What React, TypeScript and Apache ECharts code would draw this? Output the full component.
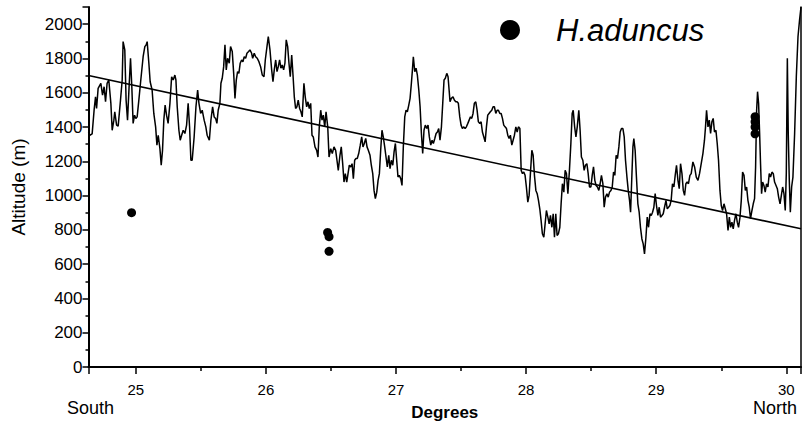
import React, { useEffect, useRef } from "react";
import * as echarts from "echarts";

const FONT = "'Liberation Sans', Arial, sans-serif";

const X_MIN = 24.636;
const X_MAX = 30.113;
const Y_MIN = 0;
const Y_MAX = 2100;
const Y_STEP = 200;

const speciesName = "H.aduncus";
const xTitle = "Degrees";
const yTitle = "Altitude (m)";
const southLabel = "South";
const northLabel = "North";

// Altitude profile along the transect (degrees, metres)
const profileDeg = [
  24.636, 24.646, 24.664, 24.679, 24.690, 24.698, 24.710, 24.731, 24.744, 24.756, 24.767, 24.779, 24.792, 24.808, 24.818, 24.831, 24.838, 24.852, 24.864, 24.882,
  24.895, 24.902, 24.915, 24.925, 24.936, 24.948, 24.959, 24.969, 24.979, 24.990, 25.000, 25.010, 25.023, 25.038, 25.056, 25.069, 25.079, 25.087, 25.100, 25.110,
  25.125, 25.138, 25.152, 25.162, 25.172, 25.185, 25.195, 25.205, 25.215, 25.225, 25.236, 25.248, 25.262, 25.275, 25.287, 25.300, 25.308, 25.318, 25.331, 25.341,
  25.352, 25.364, 25.377, 25.390, 25.402, 25.413, 25.423, 25.433, 25.448, 25.462, 25.475, 25.485, 25.498, 25.510, 25.525, 25.538, 25.548, 25.565, 25.577, 25.590,
  25.602, 25.613, 25.623, 25.633, 25.646, 25.654, 25.664, 25.675, 25.685, 25.695, 25.705, 25.718, 25.728, 25.741, 25.752, 25.762, 25.772, 25.782, 25.792, 25.802,
  25.813, 25.823, 25.833, 25.844, 25.854, 25.867, 25.877, 25.890, 25.898, 25.910, 25.921, 25.933, 25.946, 25.959, 25.972, 25.985, 25.995, 26.008, 26.018, 26.031,
  26.044, 26.054, 26.064, 26.075, 26.085, 26.095, 26.105, 26.115, 26.125, 26.136, 26.146, 26.156, 26.167, 26.177, 26.187, 26.198, 26.208, 26.218, 26.228, 26.238,
  26.248, 26.259, 26.269, 26.279, 26.292, 26.302, 26.313, 26.323, 26.333, 26.344, 26.354, 26.364, 26.377, 26.390, 26.400, 26.410, 26.421, 26.431, 26.441, 26.452,
  26.462, 26.475, 26.485, 26.498, 26.510, 26.523, 26.536, 26.546, 26.556, 26.569, 26.579, 26.590, 26.600, 26.610, 26.621, 26.631, 26.641, 26.652, 26.662, 26.672,
  26.682, 26.692, 26.702, 26.713, 26.725, 26.736, 26.746, 26.756, 26.767, 26.777, 26.787, 26.800, 26.810, 26.821, 26.831, 26.841, 26.852, 26.862, 26.872, 26.882,
  26.892, 26.902, 26.913, 26.923, 26.933, 26.944, 26.954, 26.964, 26.975, 26.985, 26.995, 27.005, 27.015, 27.025, 27.036, 27.046, 27.056, 27.067, 27.077, 27.087,
  27.098, 27.108, 27.118, 27.126, 27.133, 27.144, 27.154, 27.164, 27.175, 27.185, 27.195, 27.205, 27.215, 27.225, 27.236, 27.246, 27.256, 27.267, 27.277, 27.287,
  27.298, 27.308, 27.318, 27.328, 27.338, 27.349, 27.359, 27.369, 27.379, 27.390, 27.400, 27.408, 27.415, 27.425, 27.438, 27.448, 27.459, 27.469, 27.479, 27.490,
  27.500, 27.510, 27.521, 27.531, 27.541, 27.552, 27.562, 27.572, 27.582, 27.592, 27.602, 27.613, 27.623, 27.633, 27.644, 27.654, 27.664, 27.675, 27.685, 27.695,
  27.705, 27.715, 27.725, 27.736, 27.746, 27.756, 27.767, 27.777, 27.787, 27.798, 27.808, 27.818, 27.828, 27.838, 27.849, 27.859, 27.869, 27.879, 27.890, 27.900,
  27.910, 27.921, 27.931, 27.941, 27.952, 27.962, 27.972, 27.982, 27.992, 28.002, 28.013, 28.023, 28.033, 28.044, 28.054, 28.064, 28.075, 28.085, 28.095, 28.105,
  28.115, 28.125, 28.136, 28.146, 28.156, 28.167, 28.177, 28.187, 28.198, 28.208, 28.218, 28.228, 28.238, 28.248, 28.259, 28.269, 28.279, 28.290, 28.300, 28.310,
  28.321, 28.333, 28.344, 28.354, 28.362, 28.373, 28.383, 28.393, 28.405, 28.415, 28.425, 28.436, 28.446, 28.456, 28.467, 28.477, 28.487, 28.498, 28.508, 28.518,
  28.528, 28.538, 28.548, 28.559, 28.569, 28.579, 28.590, 28.600, 28.610, 28.621, 28.631, 28.641, 28.652, 28.662, 28.672, 28.682, 28.692, 28.702, 28.713, 28.723,
  28.733, 28.744, 28.754, 28.764, 28.775, 28.785, 28.795, 28.803, 28.813, 28.821, 28.828, 28.838, 28.848, 28.859, 28.869, 28.879, 28.890, 28.900, 28.910, 28.921,
  28.931, 28.941, 28.952, 28.962, 28.972, 28.982, 28.992, 29.002, 29.013, 29.023, 29.033, 29.044, 29.054, 29.064, 29.075, 29.085, 29.095, 29.105, 29.115, 29.125,
  29.136, 29.146, 29.156, 29.167, 29.177, 29.187, 29.198, 29.208, 29.218, 29.228, 29.238, 29.248, 29.259, 29.269, 29.282, 29.295, 29.308, 29.321, 29.333, 29.346,
  29.359, 29.371, 29.379, 29.387, 29.398, 29.408, 29.418, 29.428, 29.438, 29.448, 29.459, 29.469, 29.479, 29.490, 29.500, 29.510, 29.521, 29.531, 29.541, 29.552,
  29.562, 29.572, 29.582, 29.592, 29.602, 29.613, 29.623, 29.633, 29.644, 29.654, 29.664, 29.675, 29.685, 29.695, 29.705, 29.715, 29.725, 29.736, 29.746, 29.756,
  29.764, 29.772, 29.779, 29.787, 29.795, 29.802, 29.810, 29.818, 29.828, 29.838, 29.848, 29.859, 29.869, 29.879, 29.890, 29.900, 29.910, 29.921, 29.931, 29.941,
  29.952, 29.962, 29.972, 29.982, 29.992, 30.000, 30.008, 30.015, 30.023, 30.031, 30.041, 30.051, 30.064, 30.077, 30.090, 30.102, 30.113,
];

const profileAlt = [
  1371, 1352, 1360, 1498, 1576, 1508, 1625, 1655, 1586, 1635, 1547, 1655, 1674, 1538, 1381, 1440, 1489, 1411, 1405, 1557,
  1674, 1898, 1850, 1557, 1440, 1635, 1801, 1635, 1421, 1469, 1450, 1459, 1557, 1674, 1810, 1869, 1879, 1898, 1772, 1664,
  1616, 1479, 1401, 1294, 1352, 1274, 1177, 1264, 1440, 1528, 1469, 1421, 1538, 1693, 1674, 1703, 1674, 1518, 1381, 1323,
  1352, 1381, 1362, 1411, 1538, 1401, 1206, 1206, 1342, 1518, 1616, 1538, 1479, 1498, 1440, 1401, 1352, 1323, 1440, 1518,
  1459, 1450, 1421, 1498, 1538, 1655, 1684, 1752, 1879, 1733, 1801, 1772, 1869, 1840, 1713, 1567, 1674, 1723, 1713, 1772,
  1791, 1781, 1810, 1801, 1830, 1840, 1850, 1830, 1801, 1830, 1810, 1801, 1781, 1752, 1703, 1693, 1791, 1869, 1928, 1850,
  1733, 1664, 1733, 1791, 1723, 1752, 1791, 1743, 1762, 1733, 1772, 1908, 1869, 1772, 1693, 1820, 1703, 1576, 1508, 1518,
  1557, 1508, 1489, 1459, 1655, 1576, 1518, 1547, 1508, 1538, 1352, 1342, 1284, 1264, 1225, 1401, 1498, 1440, 1469, 1401,
  1489, 1401, 1225, 1274, 1245, 1284, 1264, 1206, 1147, 1235, 1284, 1186, 1079, 1128, 1079, 1128, 1177, 1167, 1186, 1099,
  1206, 1216, 1216, 1245, 1294, 1342, 1284, 1304, 1333, 1284, 1264, 1235, 1177, 1128, 1030, 982, 1020, 1089, 1128, 1264,
  1381, 1342, 1284, 1225, 1167, 1235, 1157, 1206, 1177, 1255, 1304, 1206, 1108, 1118, 1099, 1059, 1284, 1459, 1498, 1489,
  1528, 1567, 1655, 1733, 1810, 1723, 1743, 1703, 1616, 1518, 1362, 1245, 1381, 1411, 1391, 1411, 1342, 1294, 1323, 1304,
  1333, 1362, 1371, 1391, 1323, 1401, 1538, 1674, 1684, 1713, 1693, 1616, 1547, 1567, 1576, 1557, 1547, 1547, 1538, 1459,
  1411, 1391, 1401, 1391, 1401, 1421, 1440, 1459, 1450, 1479, 1538, 1547, 1498, 1430, 1421, 1430, 1371, 1342, 1313, 1401,
  1469, 1479, 1489, 1498, 1518, 1518, 1479, 1498, 1498, 1479, 1479, 1450, 1411, 1401, 1391, 1352, 1333, 1352, 1294, 1323,
  1352, 1401, 1371, 1401, 1391, 1147, 1128, 1137, 1118, 1050, 962, 1001, 1128, 1264, 1235, 1118, 1030, 1011, 972, 923,
  855, 777, 757, 835, 913, 874, 835, 884, 815, 894, 757, 894, 767, 777, 815, 952, 1069, 1020, 1147, 1128,
  1011, 1147, 1304, 1479, 1498, 1401, 1342, 1401, 1498, 1381, 1225, 1206, 1147, 1177, 1186, 1128, 1050, 1050, 1118, 1167,
  1089, 1059, 1050, 1030, 1069, 1118, 1069, 932, 991, 1011, 991, 1020, 1030, 1050, 1137, 1118, 1235, 1216, 1284, 1371,
  1391, 1391, 1342, 1206, 1108, 1030, 972, 903, 1118, 1284, 1333, 1264, 1108, 952, 903, 815, 747, 718, 660, 757,
  874, 815, 894, 884, 903, 932, 1011, 942, 884, 932, 874, 884, 894, 932, 972, 923, 932, 942, 972, 1069,
  1050, 1118, 1177, 1089, 1040, 1186, 1128, 1030, 1001, 1069, 1079, 1069, 1118, 1128, 1196, 1167, 1108, 1089, 1128, 1186,
  1245, 1323, 1401, 1498, 1401, 1440, 1362, 1430, 1450, 1371, 1381, 1304, 1206, 1030, 942, 913, 952, 923, 894, 796,
  874, 815, 845, 806, 855, 894, 845, 815, 874, 972, 1137, 1118, 1030, 1050, 972, 932, 865, 913, 952, 982,
  1167, 1498, 1606, 1538, 1362, 1186, 1011, 1079, 1059, 1020, 1069, 1050, 1128, 1108, 1137, 1128, 1079, 1059, 1040, 991,
  952, 1001, 1050, 1011, 913, 1128, 1801, 1362, 1089, 903, 1050, 1108, 1362, 1693, 1928, 2025, 2100,
];

// Linear trend of altitude along the transect
const trendDeg = [24.636, 30.113];
const trendAlt = [1700, 806];

// H.aduncus records
const recordDeg = [24.967, 26.474, 26.485, 26.485, 29.760, 29.760, 29.760, 29.760];
const recordAlt = [900, 785, 760, 675, 1460, 1430, 1400, 1360];

export default function App() {
  const ref = useRef<HTMLDivElement>(null);

  useEffect(() => {
    if (!ref.current) return;
    const chart = echarts.init(ref.current, null, { renderer: "svg" });

    const profile = profileDeg.map((d, i) => [d, profileAlt[i]]);
    const trend = trendDeg.map((d, i) => [d, trendAlt[i]]);
    const records = recordDeg.map((d, i) => [d, recordAlt[i]]);

    const black = "#000";

    chart.setOption({
      animation: false,
      backgroundColor: "#fff",
      textStyle: { fontFamily: FONT, color: black },
      grid: { left: 88.5, right: 4, top: 7, bottom: 62, containLabel: false },
      xAxis: {
        type: "value",
        min: X_MIN,
        max: X_MAX,
        splitNumber: 5,
        axisLine: { show: true, onZero: false, lineStyle: { color: black, width: 2 } },
        axisTick: { show: true, length: 7, lineStyle: { color: black, width: 1.5 } },
        minorTick: { show: true, splitNumber: 2, length: 4, lineStyle: { color: black, width: 1.5 } },
        axisLabel: {
          color: black,
          fontSize: 15,
          fontFamily: FONT,
          margin: 15,
          showMinLabel: false,
          showMaxLabel: false,
          formatter: (v: number) => String(v),
        },
        splitLine: { show: false },
        name: xTitle,
        nameLocation: "middle",
        nameGap: 37,
        nameTextStyle: { fontWeight: "bold", fontSize: 17, color: black, fontFamily: FONT },
      },
      yAxis: [
        {
          type: "value",
          min: Y_MIN,
          max: Y_MAX,
          interval: Y_STEP,
          axisLine: { show: true, onZero: false, lineStyle: { color: black, width: 2 } },
          axisTick: { show: true, length: 6, lineStyle: { color: black, width: 1.5 } },
          minorTick: { show: true, splitNumber: 2, length: 3, lineStyle: { color: black, width: 1.5 } },
          axisLabel: {
            color: black,
            fontSize: 17,
            fontFamily: FONT,
            margin: 6,
            showMaxLabel: false,
            formatter: (v: number) => String(v),
          },
          splitLine: { show: false },
          name: yTitle,
          nameLocation: "middle",
          nameGap: 61,
          nameTextStyle: { fontSize: 19, color: black, fontFamily: FONT },
        },
        {
          type: "value",
          position: "right",
          min: Y_MIN,
          max: Y_MAX,
          axisLine: { show: true, onZero: false, lineStyle: { color: black, width: 1.5 } },
          axisTick: { show: false },
          axisLabel: { show: false },
          splitLine: { show: false },
        },
      ],
      graphic: [
        { type: "circle", shape: { cx: 510, cy: 30, r: 10 }, style: { fill: black } },
        {
          type: "text",
          x: 556,
          y: 30,
          style: {
            text: speciesName,
            fill: black,
            fontSize: 31,
            fontStyle: "italic",
            fontFamily: FONT,
            align: "left",
            verticalAlign: "middle",
          },
        },
        {
          type: "text",
          x: 67,
          y: 408,
          style: { text: southLabel, fill: black, fontSize: 18, fontFamily: FONT, align: "left", verticalAlign: "middle" },
        },
        {
          type: "text",
          x: 797,
          y: 408,
          style: { text: northLabel, fill: black, fontSize: 18, fontFamily: FONT, align: "right", verticalAlign: "middle" },
        },
      ],
      series: [
        {
          name: "profile",
          type: "line",
          data: profile,
          symbol: "none",
          showSymbol: false,
          lineStyle: { color: black, width: 1.5 },
          z: 2,
        },
        {
          name: "trend",
          type: "line",
          data: trend,
          symbol: "none",
          showSymbol: false,
          lineStyle: { color: black, width: 1.6 },
          z: 3,
        },
        {
          name: speciesName,
          type: "scatter",
          data: records,
          symbol: "circle",
          symbolSize: 9,
          itemStyle: { color: black, opacity: 1 },
          z: 4,
        },
      ],
    });

    return () => chart.dispose();
  }, []);

  return (
    <div
      ref={ref}
      style={{ position: "fixed", left: 0, top: 0, width: 805, height: 429, background: "#fff" }}
    />
  );
}
